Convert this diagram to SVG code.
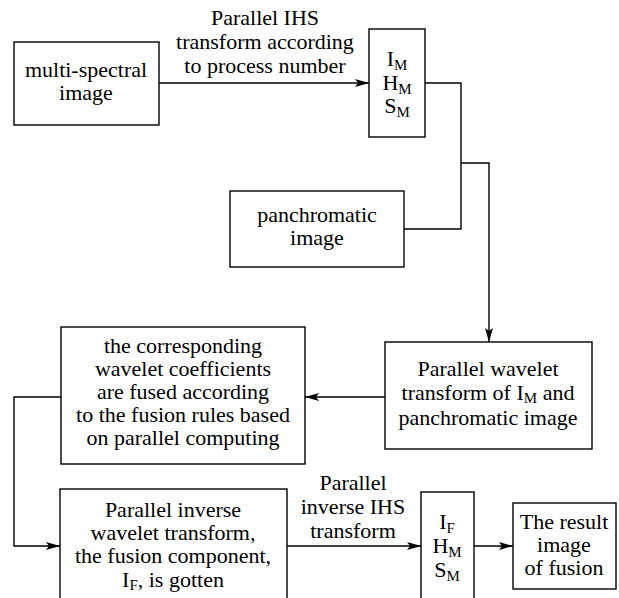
<svg xmlns="http://www.w3.org/2000/svg" width="619" height="598" viewBox="0 0 619 598">
<defs>
<marker id="arr" viewBox="0 0 14 8" refX="14" refY="4" markerWidth="14" markerHeight="8" markerUnits="userSpaceOnUse" orient="auto">
<path d="M0,0 L14,4 L0,8 L3,4 Z" fill="#000"/>
</marker>
<style>
rect{fill:#fff;stroke:#000;stroke-width:1.4}
text{font-family:'Liberation Serif','Times New Roman',Times,'Nimbus Roman','Nimbus Roman No9 L','DejaVu Serif','Noto Serif',serif;font-size:22px;fill:#000;text-anchor:middle}
.sub{font-size:15px}
.c path{fill:none;stroke:#000;stroke-width:1.4}
</style>
</defs>
<rect width="619" height="598" style="fill:#fff;stroke:none"/>
<g class="c" id="connectors">
<path d="M159,83 H369" marker-end="url(#arr)"/>
<path d="M425,83 H461 V229 H404"/>
<path d="M461,163 H489 V342" marker-end="url(#arr)"/>
<path d="M385,397 H305" marker-end="url(#arr)"/>
<path d="M61,397 H14 V546 H60" marker-end="url(#arr)"/>
<path d="M287,546 H421" marker-end="url(#arr)"/>
<path d="M474,546 H513" marker-end="url(#arr)"/>
</g>
<g id="label-ihs">
<text x="265" y="25">Parallel IHS</text>
<text x="265" y="49">transform according</text>
<text x="265" y="73">to process number</text>
</g>
<g id="label-inv">
<text x="353" y="490">Parallel</text>
<text x="353" y="514">inverse IHS</text>
<text x="353" y="538">transform</text>
</g>
<g id="multispectral">
<rect x="14" y="42" width="145" height="83"/>
<text x="86" y="77">multi-spectral</text>
<text x="86" y="100">image</text>
</g>
<g id="ihs-m">
<rect x="369" y="29" width="56" height="108"/>
<text x="397" y="66">I<tspan class="sub" dy="4">M</tspan></text>
<text x="397" y="90">H<tspan class="sub" dy="4">M</tspan></text>
<text x="397" y="113">S<tspan class="sub" dy="4">M</tspan></text>
</g>
<g id="panchromatic">
<rect x="230" y="191" width="174" height="76"/>
<text x="317" y="222">panchromatic</text>
<text x="317" y="245">image</text>
</g>
<g id="wavelet">
<rect x="385" y="342" width="207" height="107"/>
<text x="488" y="376">Parallel wavelet</text>
<text x="488" y="400">transform of I<tspan class="sub" dy="3">M</tspan><tspan dy="-3"> and</tspan></text>
<text x="488" y="425">panchromatic image</text>
</g>
<g id="fusion-rules">
<rect x="61" y="327" width="244" height="137"/>
<text x="183" y="353">the corresponding</text>
<text x="183" y="376">wavelet coefficients</text>
<text x="183" y="399">are fused according</text>
<text x="183" y="422">to the fusion rules based</text>
<text x="183" y="445">on parallel computing</text>
</g>
<g id="inverse-wavelet">
<rect x="60" y="489" width="227" height="130"/>
<text x="173" y="517">Parallel inverse</text>
<text x="173" y="540">wavelet transform,</text>
<text x="173" y="563">the fusion component,</text>
<text x="173" y="587">I<tspan class="sub" dy="3">F</tspan><tspan dy="-3">, is gotten</tspan></text>
</g>
<g id="ihs-f">
<rect x="421" y="492" width="53" height="130"/>
<text x="447" y="529">I<tspan class="sub" dy="4">F</tspan></text>
<text x="447" y="553">H<tspan class="sub" dy="4">M</tspan></text>
<text x="447" y="577">S<tspan class="sub" dy="4">M</tspan></text>
</g>
<g id="result">
<rect x="513" y="503" width="103" height="86"/>
<text x="564" y="529">The result</text>
<text x="564" y="552">image</text>
<text x="564" y="575">of fusion</text>
</g>
</svg>
